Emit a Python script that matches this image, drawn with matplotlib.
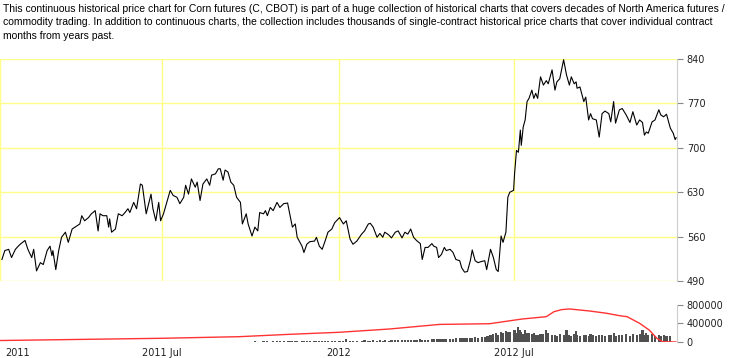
import matplotlib
matplotlib.use('Agg')
import matplotlib.pyplot as plt
import pandas as pd

# corn futures (C, CBOT) continuous chart
price_dates = [
    '2011-01-16', '2011-01-19', '2011-01-23', '2011-01-26', '2011-01-30', '2011-02-02', '2011-02-04', '2011-02-09', '2011-02-12', '2011-02-16',
    '2011-02-18', '2011-02-21', '2011-02-25', '2011-02-28', '2011-03-04', '2011-03-07', '2011-03-09', '2011-03-10', '2011-03-13', '2011-03-16',
    '2011-03-19', '2011-03-23', '2011-03-26', '2011-03-30', '2011-04-02', '2011-04-07', '2011-04-09', '2011-04-12', '2011-04-16', '2011-04-19',
    '2011-04-23', '2011-04-26', '2011-04-28', '2011-05-01', '2011-05-05', '2011-05-07', '2011-05-08', '2011-05-10', '2011-05-14', '2011-05-17',
    '2011-05-21', '2011-05-24', '2011-05-27', '2011-05-29', '2011-06-02', '2011-06-05', '2011-06-09', '2011-06-11', '2011-06-15', '2011-06-20',
    '2011-06-22', '2011-06-25', '2011-06-28', '2011-06-30', '2011-07-03', '2011-07-06', '2011-07-10', '2011-07-13', '2011-07-17', '2011-07-20',
    '2011-07-24', '2011-07-26', '2011-07-29', '2011-08-01', '2011-08-05', '2011-08-07', '2011-08-10', '2011-08-13', '2011-08-17', '2011-08-20',
    '2011-08-22', '2011-08-26', '2011-08-29', '2011-08-31', '2011-09-03', '2011-09-05', '2011-09-08', '2011-09-11', '2011-09-14', '2011-09-17',
    '2011-09-21', '2011-09-23', '2011-09-27', '2011-09-29', '2011-10-03', '2011-10-06', '2011-10-09', '2011-10-11', '2011-10-15', '2011-10-17',
    '2011-10-19', '2011-10-22', '2011-10-25', '2011-10-29', '2011-11-01', '2011-11-05', '2011-11-09', '2011-11-12', '2011-11-14', '2011-11-17',
    '2011-11-19', '2011-11-24', '2011-11-26', '2011-11-29', '2011-12-02', '2011-12-07', '2011-12-09', '2011-12-12', '2011-12-15', '2011-12-18',
    '2011-12-21', '2011-12-25', '2011-12-28', '2012-01-02', '2012-01-06', '2012-01-09', '2012-01-13', '2012-01-16', '2012-01-20', '2012-01-25',
    '2012-01-28', '2012-02-01',
    '2012-02-03', '2012-02-06', '2012-02-10', '2012-02-13', '2012-02-16', '2012-02-18', '2012-02-22', '2012-02-25', '2012-02-29', '2012-03-03',
    '2012-03-07', '2012-03-10', '2012-03-13', '2012-03-16', '2012-03-19', '2012-03-22', '2012-03-26', '2012-03-28', '2012-03-31', '2012-04-03',
    '2012-04-07', '2012-04-09', '2012-04-12', '2012-04-14', '2012-04-17', '2012-04-20', '2012-04-22', '2012-04-26', '2012-04-29', '2012-05-02',
    '2012-05-06', '2012-05-08', '2012-05-11', '2012-05-14', '2012-05-17', '2012-05-19', '2012-05-22', '2012-05-25', '2012-05-29', '2012-06-01',
    '2012-06-03', '2012-06-05', '2012-06-07', '2012-06-10', '2012-06-13', '2012-06-15', '2012-06-18', '2012-06-20', '2012-06-23', '2012-06-25',
    '2012-06-27', '2012-07-01', '2012-07-02', '2012-07-04', '2012-07-06', '2012-07-08', '2012-07-09', '2012-07-11', '2012-07-13', '2012-07-15',
    '2012-07-17', '2012-07-20', '2012-07-22', '2012-07-24', '2012-07-26', '2012-07-29', '2012-08-01', '2012-08-04', '2012-08-06', '2012-08-10',
    '2012-08-13', '2012-08-15', '2012-08-18', '2012-08-22', '2012-08-25', '2012-08-28', '2012-08-30', '2012-09-02', '2012-09-04', '2012-09-05',
    '2012-09-08', '2012-09-12', '2012-09-14', '2012-09-17', '2012-09-19', '2012-09-21', '2012-09-25', '2012-09-28', '2012-10-01', '2012-10-04',
    '2012-10-08', '2012-10-10', '2012-10-13', '2012-10-15', '2012-10-19', '2012-10-22', '2012-10-26', '2012-10-30', '2012-11-02', '2012-11-06',
    '2012-11-09', '2012-11-12', '2012-11-14', '2012-11-16', '2012-11-18', '2012-11-22', '2012-11-25', '2012-11-29', '2012-12-01', '2012-12-04',
    '2012-12-07', '2012-12-11', '2012-12-14', '2012-12-16', '2012-12-17',
]
price = [
    524, 538, 540, 527, 540, 545, 548, 554, 540, 527,
    540, 506, 519, 516, 538, 545, 530, 538, 508, 538,
    559, 567, 551, 572, 575, 580, 593, 585, 590, 596,
    601, 569, 596, 593, 593, 575, 588, 567, 572, 596,
    593, 598, 604, 598, 614, 604, 643, 641, 596, 627,
    604, 585, 614, 585, 596, 612, 633, 625, 622, 612,
    622, 641, 627, 651, 638, 646, 617, 643, 651, 641,
    657, 659, 667, 667, 649, 665, 662, 646, 641, 622,
    614, 580, 596, 580, 561, 575, 569, 598, 596, 601,
    593, 606, 601, 614, 606, 612, 613, 590, 575, 580,
    559, 545, 535, 548, 552, 553, 559, 545, 540, 553,
    567, 572, 582, 590, 580, 585, 556, 548, 553, 564,
    569, 580,
    581, 575, 559, 565, 559, 567, 563, 558, 567, 569,
    558, 567, 564, 572, 559, 554, 549, 524, 543, 543,
    549, 545, 543, 527, 532, 543, 538, 540, 535, 524,
    522, 511, 504, 505, 522, 539, 522, 519, 521, 522,
    508, 524, 540, 527, 508, 505, 561, 551, 567, 622,
    630, 633, 659, 696, 693, 728, 704, 733, 744, 773,
    778, 791, 778, 786, 778, 812, 799, 806, 801, 823,
    791, 804, 809, 839, 815, 799, 812, 801, 804, 794,
    796, 773, 780, 744, 754, 746, 744, 717, 754, 758,
    754, 741, 773, 739, 760, 762, 752, 740, 757, 736,
    744, 740, 720, 725, 723, 741, 744, 760, 752, 749,
    753, 731, 723, 713, 716,
]

# daily volume (thousands of contracts) for the last part of the price dates, from 2011-10-03
volume_k = [
    8, 12, 6, 10, 15, 9, 12, 10, 14, 11,
    13, 16, 12, 18, 14, 20, 15, 17, 22, 18,
    20, 16, 22, 25, 18, 24, 20, 22, 26, 28,
    30, 75, 28, 25, 32, 30, 35, 28,
    30, 35, 28, 40, 32, 38, 30, 42, 36, 45,
    40, 38, 50, 44, 48, 42, 55, 50, 46, 52,
    60, 55, 65, 58, 70, 62, 75, 68, 72, 80,
    78, 85, 80, 90, 88, 95, 100, 92, 105, 110,
    140, 130, 150, 170, 190, 160, 210, 200, 230, 220,
    210, 230, 250, 200, 330, 260, 220, 180, 250, 200,
    190, 170, 200, 160, 150, 180, 170, 260, 190, 160,
    150, 140, 170, 160, 250, 150, 140, 180, 230, 150,
    140, 160, 150, 130, 170, 150, 140, 160, 150, 140,
    160, 150, 200, 140, 160, 150, 180, 140, 170, 150,
    180, 250, 160, 200, 150, 170, 140, 160, 130, 150,
    130, 120, 0, 0, 0,
]

# open interest (thousands)
oi_dates = ['2011-01-14', '2011-07-01', '2011-09-20', '2011-11-11', '2012-01-02', '2012-02-23',
            '2012-04-15', '2012-06-06', '2012-07-10', '2012-08-04', '2012-08-12', '2012-08-20',
            '2012-08-28', '2012-09-18', '2012-10-06', '2012-10-19', '2012-10-27', '2012-11-09',
            '2012-11-19', '2012-11-27', '2012-12-03', '2012-12-17']
oi_k = [32, 80, 115, 166, 210, 281, 380, 395, 497, 547, 655, 700,
        714, 670, 620, 569, 547, 404, 259, 80, 6, 0]

tick_dates = ['2011-01-14', '2011-07-01', '2012-01-01', '2012-07-01']
tick_labels = ['', '2011 Jul', '2012', '2012 Jul']
price_ticks = [490, 560, 630, 700, 770, 840]
vol_ticks = [0, 400000, 800000]

header = ("This continuous historical price chart for Corn futures (C, CBOT) is part of a huge collection "
          "of historical charts that covers decades of North America futures /\n"
          "commodity trading. In addition to continuous charts, the collection includes thousands of "
          "single-contract historical price charts that cover individual contract\n"
          "months from years past.")

dates = pd.to_datetime(price_dates)
vdates = dates[len(dates) - len(volume_k):]
volume = [v * 1000 for v in volume_k]
oi = [v * 1000 for v in oi_k]
odates = pd.to_datetime(oi_dates)
ticks = pd.to_datetime(tick_dates)
x_left = pd.Timestamp('2011-01-14')
x_right = pd.Timestamp('2012-12-18')

grid_col = '#ffff88'
spine_col = '#cccccc'
text_col = '#222222'

fig = plt.figure(figsize=(7.4, 3.58), dpi=100)

fig.text(0.004, 0.988, header, va='top', ha='left', fontsize=7.5, family='Liberation Sans',
         linespacing=1.4, color='black')

# price panel
ax = fig.add_axes([0, 0.215, 0.915, 0.62])
ax.plot(dates, price, color='black', linewidth=0.8)
ax.set_xlim(x_left, x_right)
ax.set_ylim(490, 840)
ax.set_yticks(price_ticks)
ax.set_xticks(ticks)
ax.set_xticklabels([])
ax.yaxis.tick_right()
ax.grid(True, color=grid_col, linewidth=1)
ax.tick_params(axis='x', length=0)
ax.tick_params(axis='y', length=4, color='#888888', labelsize=7, labelcolor=text_col, pad=3)
for s in ['top', 'left', 'bottom']:
    ax.spines[s].set_visible(False)
ax.spines['right'].set_color(spine_col)

# volume / open interest panel
ax2 = fig.add_axes([0, 0.0447, 0.915, 0.1034])
ax2.bar(vdates, volume, width=2.2, color='#505050', linewidth=0)
ax2.plot(odates, oi, color='#ff3333', linewidth=1.0)
ax2.set_xlim(x_left, x_right)
ax2.set_ylim(0, 800000)
ax2.set_yticks(vol_ticks)
ax2.yaxis.tick_right()
ax2.set_xticks(ticks)
ax2.set_xticklabels(tick_labels)
ax2.tick_params(axis='x', length=0, labelsize=7, labelcolor=text_col, pad=4)
ax2.tick_params(axis='y', length=4, color='#888888', labelsize=7, labelcolor=text_col, pad=3)
for s in ['top', 'left', 'bottom']:
    ax2.spines[s].set_visible(False)
ax2.spines['right'].set_color(spine_col)
# first year label sits just inside the left edge
ax2.annotate('2011', xy=(0, 0), xycoords='axes fraction', xytext=(3.6, -4),
             textcoords='offset points', ha='left', va='top', fontsize=7, color=text_col)

fig.savefig('out.png', dpi=100)
